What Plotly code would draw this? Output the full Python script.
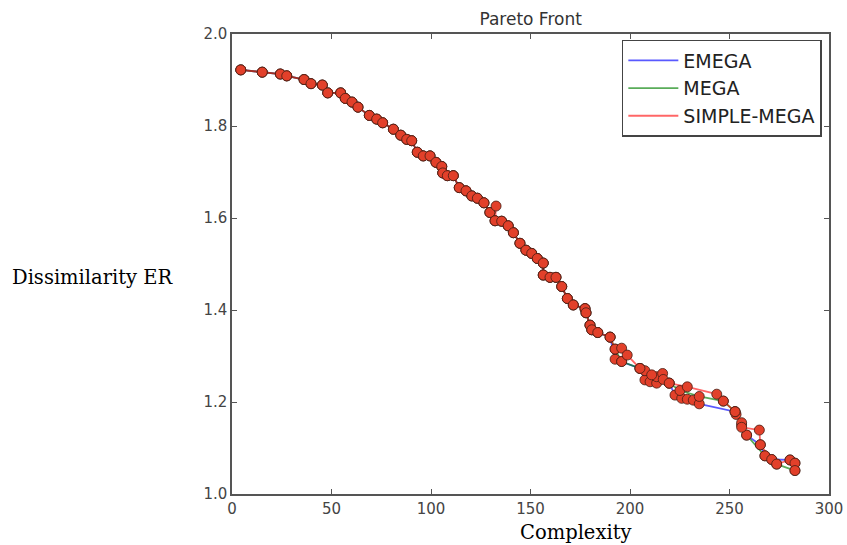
import plotly.graph_objects as go

# ---- data ----
common_x = [4.4, 15.2, 24.3, 27.5, 36.2, 39.7, 45.4, 48.1, 54.6, 56.9, 60.3, 63.3, 69.0, 72.7, 75.7,
            81.1, 84.8, 87.8, 90.3, 93.1, 96.1, 99.5, 102.5, 105.4, 105.9, 108.2, 111.2, 114.2,
            117.6, 120.5, 123.3, 126.6, 129.6]
common_y = [1.922, 1.917, 1.913, 1.909, 1.901, 1.892, 1.889, 1.872, 1.872, 1.860, 1.852, 1.841, 1.823,
            1.815, 1.807, 1.793, 1.780, 1.771, 1.768, 1.743, 1.735, 1.735, 1.721, 1.712, 1.698, 1.692,
            1.692, 1.666, 1.659, 1.648, 1.643, 1.633, 1.612]
mid_x = [132.2, 135.5, 138.8, 141.4, 144.7, 147.7, 150.6, 153.4, 156.4, 156.4, 159.8, 162.8, 165.7,
         168.5, 171.5, 177.4, 177.9, 179.9, 180.8, 183.8, 190.0]
mid_y = [1.594, 1.593, 1.583, 1.568, 1.545, 1.530, 1.523, 1.512, 1.502, 1.476, 1.471, 1.471, 1.451,
         1.425, 1.411, 1.403, 1.394, 1.367, 1.357, 1.351, 1.341]

emega_tail_x = [192.5, 195.8, 205.0, 207.5, 210.1, 213.4, 219.7, 222.6, 226.0, 228.8, 231.8, 234.8,
                252.8, 253.3, 256.1, 258.6, 265.5, 267.8, 271.2, 280.4, 282.9]
emega_tail_y = [1.293, 1.288, 1.273, 1.248, 1.244, 1.241, 1.241, 1.215, 1.208, 1.206, 1.204, 1.196,
                1.179, 1.173, 1.150, 1.128, 1.107, 1.083, 1.075, 1.074, 1.067]

mega_tail_x = [192.5, 195.8, 205.0, 207.5, 213.4, 219.7, 225.1, 234.8, 246.9, 252.8, 256.1, 258.6,
               267.8, 273.7, 282.9]
mega_tail_y = [1.315, 1.288, 1.273, 1.268, 1.255, 1.241, 1.225, 1.212, 1.202, 1.179, 1.155, 1.128,
               1.083, 1.065, 1.051]

simple_extra_x = [132.7]
simple_extra_y = [1.626]
simple_tail_x = [192.5, 195.8, 198.6, 205.0, 210.9, 216.4, 216.7, 219.7, 228.8, 243.6, 246.9, 252.8,
                 256.1, 265.0, 265.5, 271.2, 273.7, 280.4, 282.9, 282.9]
simple_tail_y = [1.315, 1.317, 1.302, 1.273, 1.259, 1.262, 1.249, 1.241, 1.233, 1.217, 1.202, 1.179,
                 1.145, 1.139, 1.107, 1.075, 1.065, 1.074, 1.067, 1.051]

series_names = ["EMEGA", "MEGA", "SIMPLE-MEGA"]
series_x = [common_x + mid_x + emega_tail_x,
            common_x + mid_x + mega_tail_x,
            common_x + simple_extra_x + mid_x + simple_tail_x]
series_y = [common_y + mid_y + emega_tail_y,
            common_y + mid_y + mega_tail_y,
            common_y + simple_extra_y + mid_y + simple_tail_y]
line_colors = ["rgba(0,0,255,0.65)", "rgba(0,128,0,0.65)", "rgba(255,0,0,0.6)"]

x_ticks = [0, 50, 100, 150, 200, 250, 300]
y_ticks = [1.0, 1.2, 1.4, 1.6, 1.8, 2.0]

fig = go.Figure()
for name, xs, ys, c in zip(series_names, series_x, series_y, line_colors):
    fig.add_trace(go.Scatter(x=xs, y=ys, mode="lines", name=name, legendgroup=name,
                             line=dict(color=c, width=1.8)))
for name, xs, ys in zip(series_names, series_x, series_y):
    fig.add_trace(go.Scatter(x=xs, y=ys, mode="markers", showlegend=False,
                             marker=dict(color="#e2402a", size=10,
                                         line=dict(color="rgba(70,30,20,0.8)", width=1))))

axis_common = dict(showgrid=False, zeroline=False, showline=True, linecolor="#555555", linewidth=1.5,
                   mirror="ticks", ticks="inside", ticklen=5, tickwidth=1, tickcolor="#555555",
                   automargin=False,
                   tickfont=dict(family="DejaVu Sans", size=15, color="#444444"))

fig.update_layout(
    width=847, height=545,
    margin=dict(l=232, r=18, t=34, b=51, autoexpand=False),
    paper_bgcolor="white", plot_bgcolor="white",
    title=dict(text="Pareto Front", x=0.6265, xanchor="center", y=0.965, yanchor="middle",
               font=dict(family="DejaVu Sans", size=17, color="#333333")),
    xaxis=dict(range=[0, 300], tickvals=x_ticks, ticktext=[str(v) for v in x_ticks], **axis_common),
    yaxis=dict(range=[1.0, 2.0], tickvals=y_ticks, ticktext=[f"{v:.1f}" for v in y_ticks], **axis_common),
    legend=dict(x=0.988, xanchor="right", y=0.987, yanchor="top", bgcolor="white",
                bordercolor="#444444", borderwidth=1.5, tracegroupgap=0, itemwidth=50,
                font=dict(family="DejaVu Sans", size=19, color="#222222")),
    showlegend=True,
)

fig.add_annotation(text="Dissimilarity ER", xref="paper", yref="paper", x=-0.372, y=0.4717,
                   xanchor="left", yanchor="middle", showarrow=False,
                   font=dict(family="DejaVu Serif", size=19.5, color="black"))
fig.add_annotation(text="Complexity", xref="paper", yref="paper", x=0.576, y=-0.083,
                   xanchor="center", yanchor="middle", showarrow=False,
                   font=dict(family="DejaVu Serif", size=19.5, color="black"))

fig.write_html("out.html")
